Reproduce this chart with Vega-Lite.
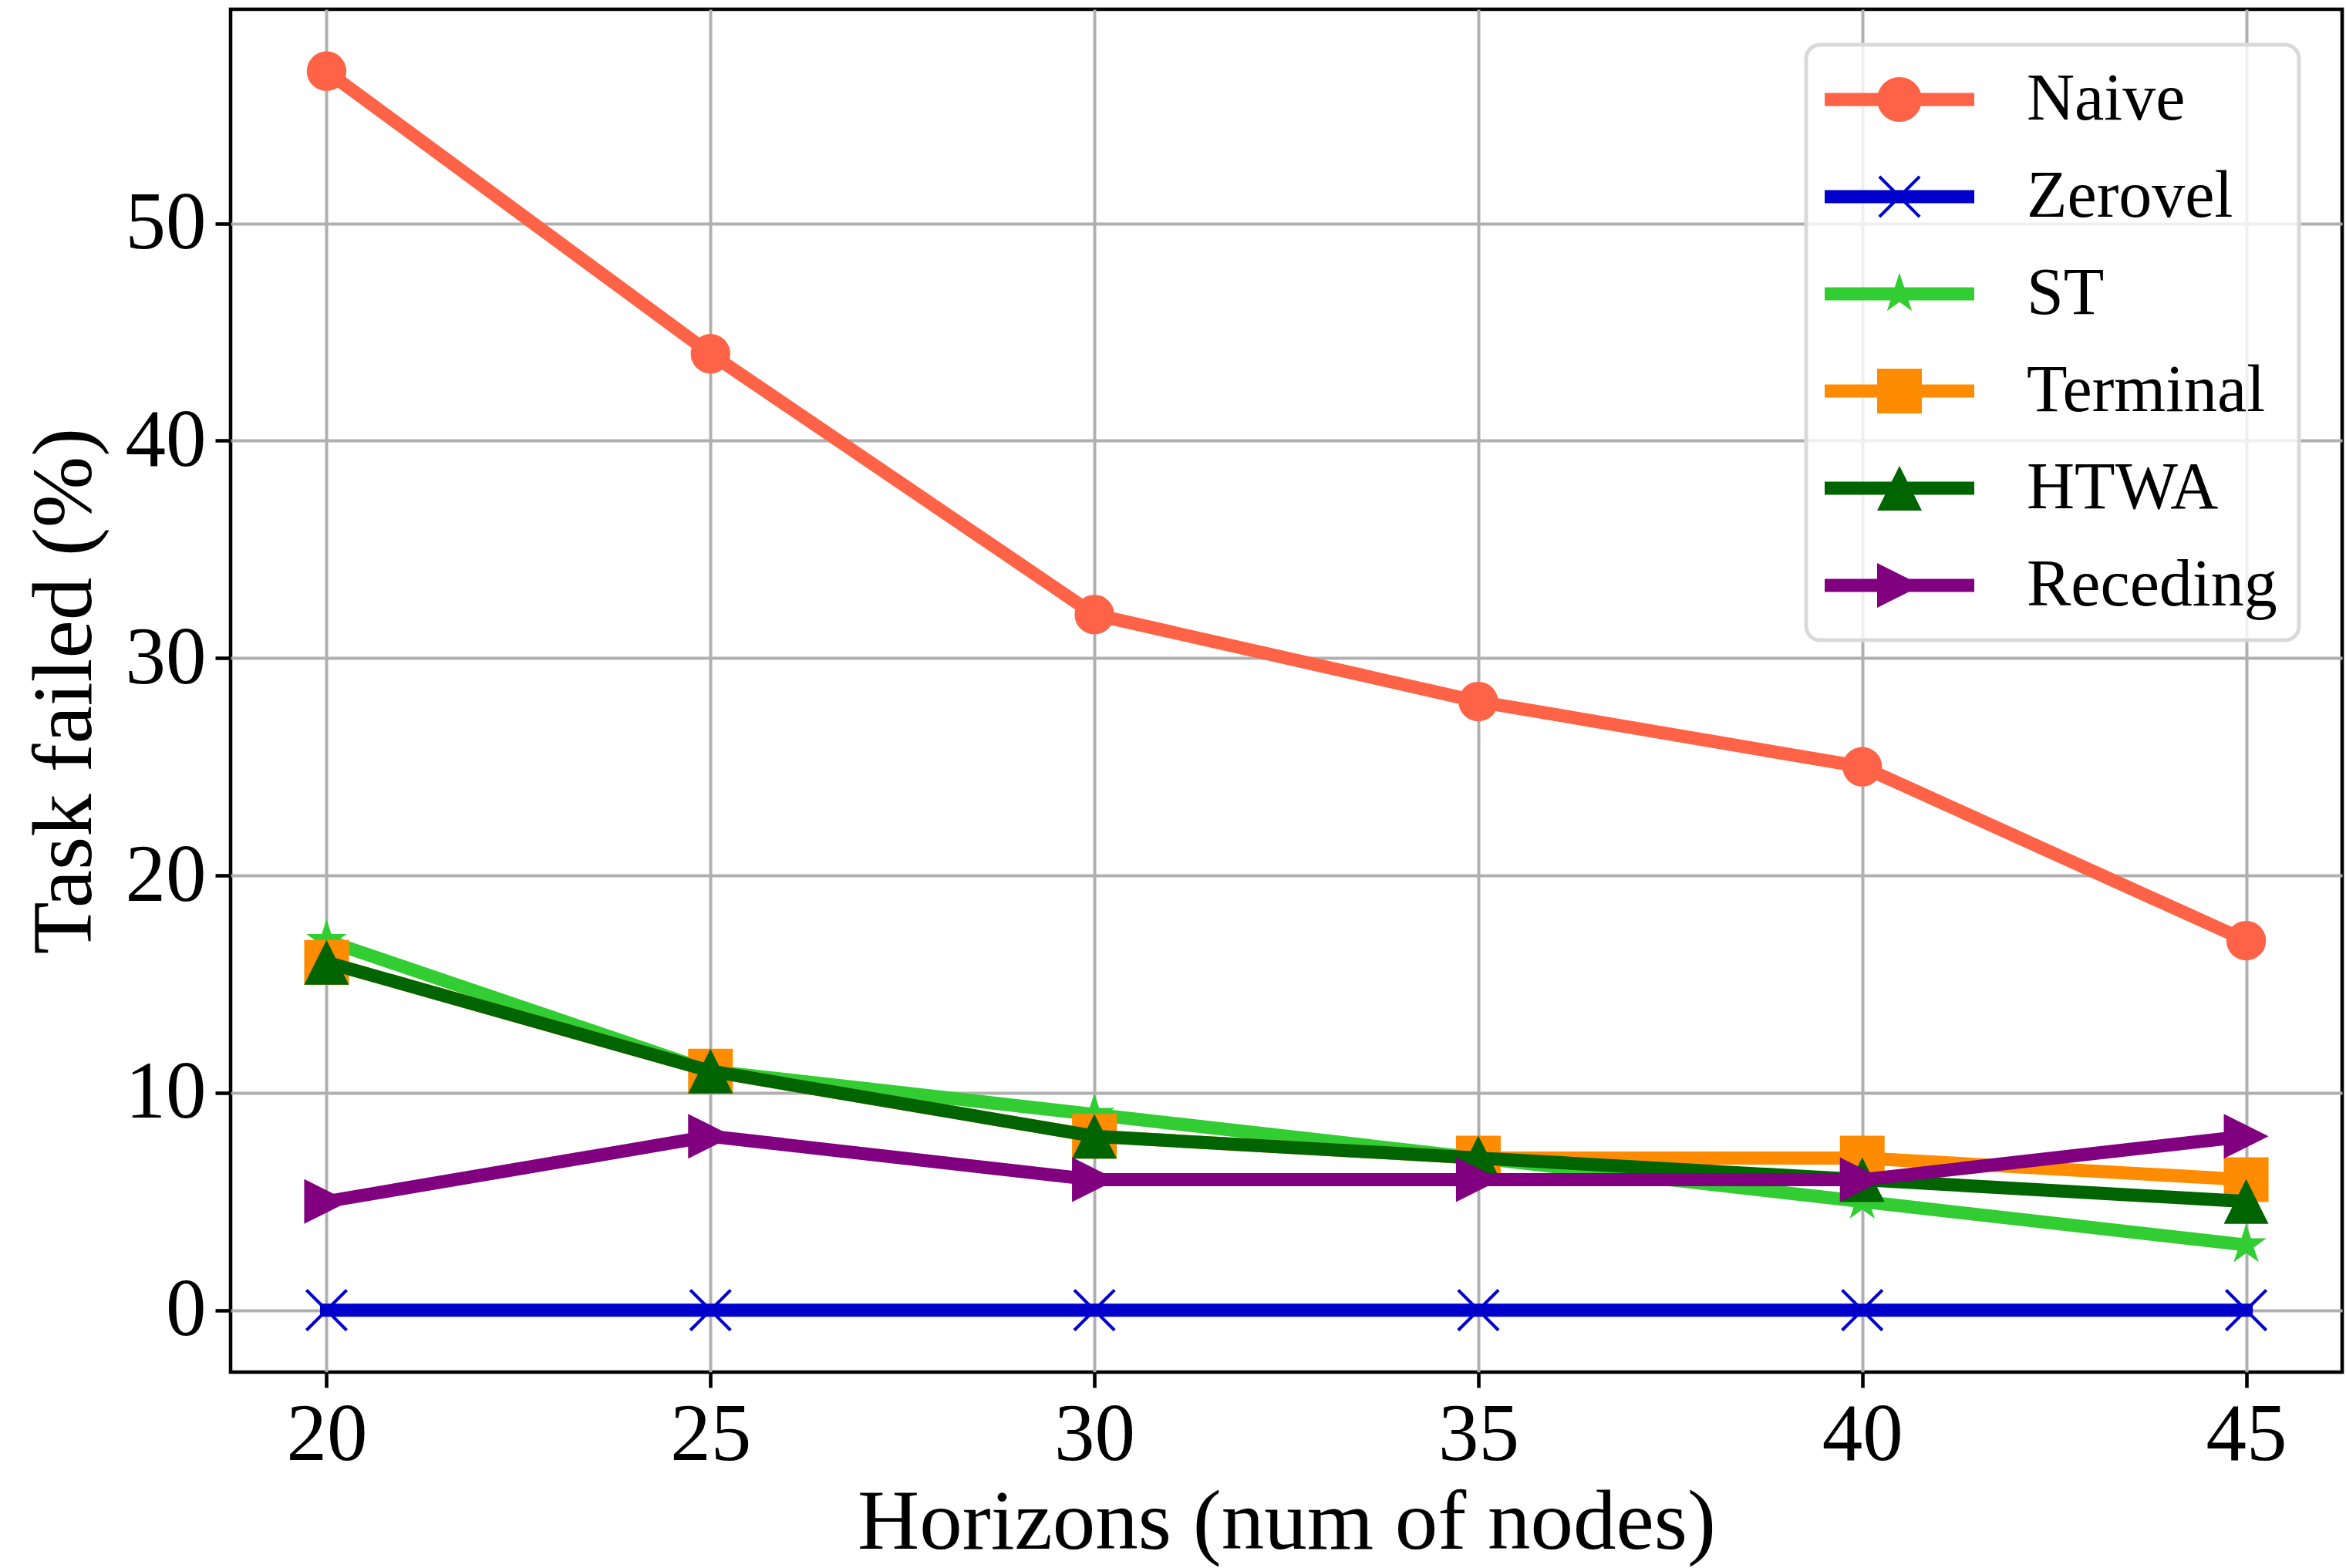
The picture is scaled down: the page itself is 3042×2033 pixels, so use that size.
{
  "$schema": "https://vega.github.io/schema/vega-lite/v6.json",
  "width": 2738,
  "height": 1767,
  "autosize": "none",
  "padding": {"left": 299, "top": 12, "right": 5, "bottom": 254},
  "background": "white",
  "config": {
    "view": {"stroke": "black", "strokeWidth": 4.6},
    "font": "Liberation Serif"
  },
  "data": {
    "values": [
      {"h": 20, "v": 57, "s": "Naive"}, {"h": 25, "v": 44, "s": "Naive"}, {"h": 30, "v": 32, "s": "Naive"},
      {"h": 35, "v": 28, "s": "Naive"}, {"h": 40, "v": 25, "s": "Naive"}, {"h": 45, "v": 17, "s": "Naive"},
      {"h": 20, "v": 0, "s": "Zerovel"}, {"h": 25, "v": 0, "s": "Zerovel"}, {"h": 30, "v": 0, "s": "Zerovel"},
      {"h": 35, "v": 0, "s": "Zerovel"}, {"h": 40, "v": 0, "s": "Zerovel"}, {"h": 45, "v": 0, "s": "Zerovel"},
      {"h": 20, "v": 17, "s": "ST"}, {"h": 25, "v": 11, "s": "ST"}, {"h": 30, "v": 9, "s": "ST"},
      {"h": 35, "v": 7, "s": "ST"}, {"h": 40, "v": 5, "s": "ST"}, {"h": 45, "v": 3, "s": "ST"},
      {"h": 20, "v": 16, "s": "Terminal"}, {"h": 25, "v": 11, "s": "Terminal"}, {"h": 30, "v": 8, "s": "Terminal"},
      {"h": 35, "v": 7, "s": "Terminal"}, {"h": 40, "v": 7, "s": "Terminal"}, {"h": 45, "v": 6, "s": "Terminal"},
      {"h": 20, "v": 16, "s": "HTWA"}, {"h": 25, "v": 11, "s": "HTWA"}, {"h": 30, "v": 8, "s": "HTWA"},
      {"h": 35, "v": 7, "s": "HTWA"}, {"h": 40, "v": 6, "s": "HTWA"}, {"h": 45, "v": 5, "s": "HTWA"},
      {"h": 20, "v": 5, "s": "Receding"}, {"h": 25, "v": 8, "s": "Receding"}, {"h": 30, "v": 6, "s": "Receding"},
      {"h": 35, "v": 6, "s": "Receding"}, {"h": 40, "v": 6, "s": "Receding"}, {"h": 45, "v": 8, "s": "Receding"}
    ]
  },
  "encoding": {
    "x": {
      "field": "h", "type": "quantitative",
      "scale": {"domain": [18.75, 46.25], "nice": false, "zero": false},
      "axis": {
        "values": [20, 25, 30, 35, 40, 45],
        "title": "Horizons (num of nodes)",
        "grid": true, "gridColor": "#b0b0b0", "gridWidth": 4,
        "domain": false,
        "ticks": true, "tickColor": "black", "tickWidth": 4.6, "tickSize": 20,
        "labelFont": "Liberation Serif", "labelFontSize": 105, "labelColor": "black", "labelPadding": 10,
        "titleFont": "Liberation Serif", "titleFontSize": 111, "titleFontWeight": "normal", "titleColor": "black",
        "titleX": 1369, "titleY": 228, "titleBaseline": "alphabetic", "titleAlign": "center"
      }
    },
    "y": {
      "field": "v", "type": "quantitative",
      "scale": {"domain": [-2.85, 59.85], "nice": false, "zero": false},
      "axis": {
        "values": [0, 10, 20, 30, 40, 50],
        "title": "Task failed (%)",
        "grid": true, "gridColor": "#b0b0b0", "gridWidth": 4,
        "domain": false,
        "ticks": true, "tickColor": "black", "tickWidth": 4.6, "tickSize": 20,
        "labelFont": "Liberation Serif", "labelFontSize": 105, "labelColor": "black", "labelPadding": 12,
        "titleFont": "Liberation Serif", "titleFontSize": 111, "titleFontWeight": "normal", "titleColor": "black",
        "titleX": -182, "titleY": 883.5, "titleBaseline": "alphabetic", "titleAlign": "center", "titleAngle": 270
      }
    },
    "color": {
      "field": "s", "type": "nominal",
      "scale": {
        "domain": ["Naive", "Zerovel", "ST", "Terminal", "HTWA", "Receding"],
        "range": ["#FF6347", "#0000CD", "#32CD32", "#FF8C00", "#006400", "#800080"]
      },
      "legend": {
        "title": null,
        "orient": "none", "legendX": 2043, "legendY": 46,
        "direction": "vertical",
        "symbolSize": 3364,
        "symbolOffset": -18,
        "labelOffset": 190,
        "rowPadding": 40,
        "padding": 28,
        "labelFont": "Liberation Serif", "labelFontSize": 86, "labelColor": "black",
        "labelLimit": 1000,
        "fillColor": "rgba(255,255,255,0.8)",
        "strokeColor": "#d9d9d9",
        "cornerRadius": 18,
        "symbolOpacity": 1,
        "encode": {
          "legend": {
            "update": {
              "strokeWidth": {"value": 5}
            }
          },
          "symbols": {
            "update": {
              "fill": {"signal": "scale('color', datum.value)"},
              "stroke": {"value": "transparent"},
              "strokeWidth": {"value": 0},
              "opacity": {"value": 1},
              "shape": {"signal": "datum.value==='Naive' ? 'M-1,-0.293L5.69,-0.293L5.69,0.293L-1,0.293ZM3.345,0A1,1,0,1,1,1.345,0A1,1,0,1,1,3.345,0Z' : datum.value==='Zerovel' ? 'M-1,-0.293L5.69,-0.293L5.69,0.293L-1,0.293ZM1.495,-0.95L2.345,-0.1L3.195,-0.95L3.295,-0.85L2.445,0L3.295,0.85L3.195,0.95L2.345,0.1L1.495,0.95L1.395,0.85L2.245,0L1.395,-0.85Z' : datum.value==='ST' ? 'M-1,-0.293L5.69,-0.293L5.69,0.293L-1,0.293ZM2.345,-0.95L2.5584,-0.2937L3.2485,-0.2936L2.6902,0.1122L2.9034,0.7686L2.345,0.363L1.7866,0.7686L1.9998,0.1122L1.4415,-0.2936L2.1316,-0.2937Z' : datum.value==='Terminal' ? 'M-1,-0.293L5.69,-0.293L5.69,0.293L-1,0.293ZM1.345,-1L3.345,-1L3.345,1L1.345,1Z' : datum.value==='HTWA' ? 'M-1,-0.293L5.69,-0.293L5.69,0.293L-1,0.293ZM2.345,-1L3.345,1L1.345,1Z' : 'M-1,-0.293L5.69,-0.293L5.69,0.293L-1,0.293ZM3.345,0L1.345,1L1.345,-1Z'"}
            }
          }
        }
      }
    }
  },
  "layer": [
    {"transform": [{"filter": "datum.s==='Naive'"}], "mark": {"type": "line", "strokeWidth": 17, "strokeCap": "square", "strokeJoin": "round"}},
    {"transform": [{"filter": "datum.s==='Naive'"}], "mark": {"type": "point", "filled": true, "opacity": 1, "shape": "circle", "size": 2642, "strokeWidth": 0}},
    {"transform": [{"filter": "datum.s==='Zerovel'"}], "mark": {"type": "line", "strokeWidth": 17, "strokeCap": "square", "strokeJoin": "round"}},
    {"transform": [{"filter": "datum.s==='Zerovel'"}], "mark": {"type": "point", "filled": true, "opacity": 1, "shape": "M-0.85,-0.95L0,-0.1L0.85,-0.95L0.95,-0.85L0.1,0L0.95,0.85L0.85,0.95L0,0.1L-0.85,0.95L-0.95,0.85L-0.1,0L-0.95,-0.85Z", "size": 3364, "strokeWidth": 0}},
    {"transform": [{"filter": "datum.s==='ST'"}], "mark": {"type": "line", "strokeWidth": 17, "strokeCap": "square", "strokeJoin": "round"}},
    {"transform": [{"filter": "datum.s==='ST'"}], "mark": {"type": "point", "filled": true, "opacity": 1, "shape": "M0,-0.95L0.2134,-0.2937L0.9035,-0.2936L0.3452,0.1122L0.5584,0.7686L0,0.363L-0.5584,0.7686L-0.3452,0.1122L-0.9035,-0.2936L-0.2134,-0.2937Z", "size": 3364, "strokeWidth": 0}},
    {"transform": [{"filter": "datum.s==='Terminal'"}], "mark": {"type": "line", "strokeWidth": 17, "strokeCap": "square", "strokeJoin": "round"}},
    {"transform": [{"filter": "datum.s==='Terminal'"}], "mark": {"type": "point", "filled": true, "opacity": 1, "shape": "M-1,-1L1,-1L1,1L-1,1Z", "size": 3364, "strokeWidth": 0}},
    {"transform": [{"filter": "datum.s==='HTWA'"}], "mark": {"type": "line", "strokeWidth": 17, "strokeCap": "square", "strokeJoin": "round"}},
    {"transform": [{"filter": "datum.s==='HTWA'"}], "mark": {"type": "point", "filled": true, "opacity": 1, "shape": "M0,-1L1,1L-1,1Z", "size": 3364, "strokeWidth": 0}},
    {"transform": [{"filter": "datum.s==='Receding'"}], "mark": {"type": "line", "strokeWidth": 17, "strokeCap": "square", "strokeJoin": "round"}},
    {"transform": [{"filter": "datum.s==='Receding'"}], "mark": {"type": "point", "filled": true, "opacity": 1, "shape": "M1,0L-1,1L-1,-1Z", "size": 3364, "strokeWidth": 0}}
  ]
}
